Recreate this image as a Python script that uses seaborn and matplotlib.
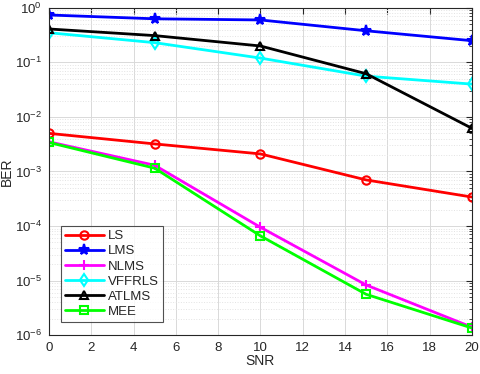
import numpy as np
import pandas as pd
import seaborn as sns
import matplotlib
matplotlib.use("Agg")
import matplotlib.pyplot as plt
from matplotlib.ticker import LogLocator, NullFormatter, FixedLocator

snr = [0, 5, 10, 15, 20]
ls_ber = [5.0e-3, 3.2e-3, 2.1e-3, 7.0e-4, 3.4e-4]
lms_ber = [0.74, 0.63, 0.60, 0.38, 0.25]
nlms_ber = [3.5e-3, 1.3e-3, 9.5e-5, 8.3e-6, 1.4e-6]
vffrls_ber = [0.35, 0.23, 0.12, 0.056, 0.040]
atlms_ber = [0.41, 0.31, 0.20, 0.062, 6.2e-3]
mee_ber = [3.4e-3, 1.15e-3, 6.6e-5, 5.6e-6, 1.35e-6]
y_ticks = [1e-6, 1e-5, 1e-4, 1e-3, 1e-2, 1e-1, 1e0]

names = ["LS", "LMS", "NLMS", "VFFRLS", "ATLMS", "MEE"]
series = [ls_ber, lms_ber, nlms_ber, vffrls_ber, atlms_ber, mee_ber]
colors = ["#ff0000", "#0000ff", "#ff00ff", "#00ffff", "#000000", "#00ff00"]
markers = ["o", "*", "+", "d", "^", "s"]
msizes = [6, 8, 7, 6, 6, 6]
faces = ["none", "#0000ff", "none", "none", "none", "none"]

rows = []
for n, s in zip(names, series):
    for x, y in zip(snr, s):
        rows.append({"SNR": x, "BER": y, "Method": n})
df = pd.DataFrame(rows)

sns.set_style("white")
plt.rcParams['font.family'] = ['Arial', 'Liberation Sans', 'DejaVu Sans']

fig = plt.figure(figsize=(4.8, 3.74), dpi=100)
ax = fig.add_axes([0.102, 0.104, 0.881, 0.875])

for n, c, m, ms, fc in zip(names, colors, markers, msizes, faces):
    sub = df[df["Method"] == n]
    sns.lineplot(data=sub, x="SNR", y="BER", ax=ax, color=c, marker=m,
                 markersize=ms, markerfacecolor=fc,
                 markeredgecolor=c, markeredgewidth=1.5, linewidth=2,
                 label=n, legend=False)

ax.set_yscale("log")
ax.set_xlim(0, 20)
ax.set_ylim(1e-6, 1)
ax.set_xticks(range(0, 21, 2))
ax.yaxis.set_major_locator(FixedLocator(y_ticks))
minor = [m * 10.0 ** e for e in range(-6, 0) for m in range(2, 10)]
ax.yaxis.set_minor_locator(FixedLocator(minor))
ax.yaxis.set_minor_formatter(NullFormatter())
ax.grid(True, which="major", color="#d9d9d9", linestyle="-", linewidth=0.7)
ax.grid(True, which="minor", color="#e3e3e3", linestyle=":", linewidth=0.7)
ax.tick_params(which="both", direction="in", top=True, right=True, labelsize=9.5, colors="#262626")
ax.tick_params(which="major", length=4, pad=5)
ax.tick_params(which="minor", length=2)
for sp in ax.spines.values():
    sp.set_color("#262626")
    sp.set_linewidth(0.8)
ax.set_xlabel("SNR", fontsize=10, labelpad=0)
ax.set_ylabel("BER", fontsize=10, labelpad=1)

leg = ax.legend(loc="lower left", bbox_to_anchor=(0.012, 0.02), fontsize=9.5,
                frameon=True, fancybox=False, edgecolor="#262626",
                handlelength=3.0, handletextpad=0.3, borderpad=0.3, labelspacing=0.22)
leg.get_frame().set_linewidth(0.8)

fig.savefig("out.png", dpi=100)
